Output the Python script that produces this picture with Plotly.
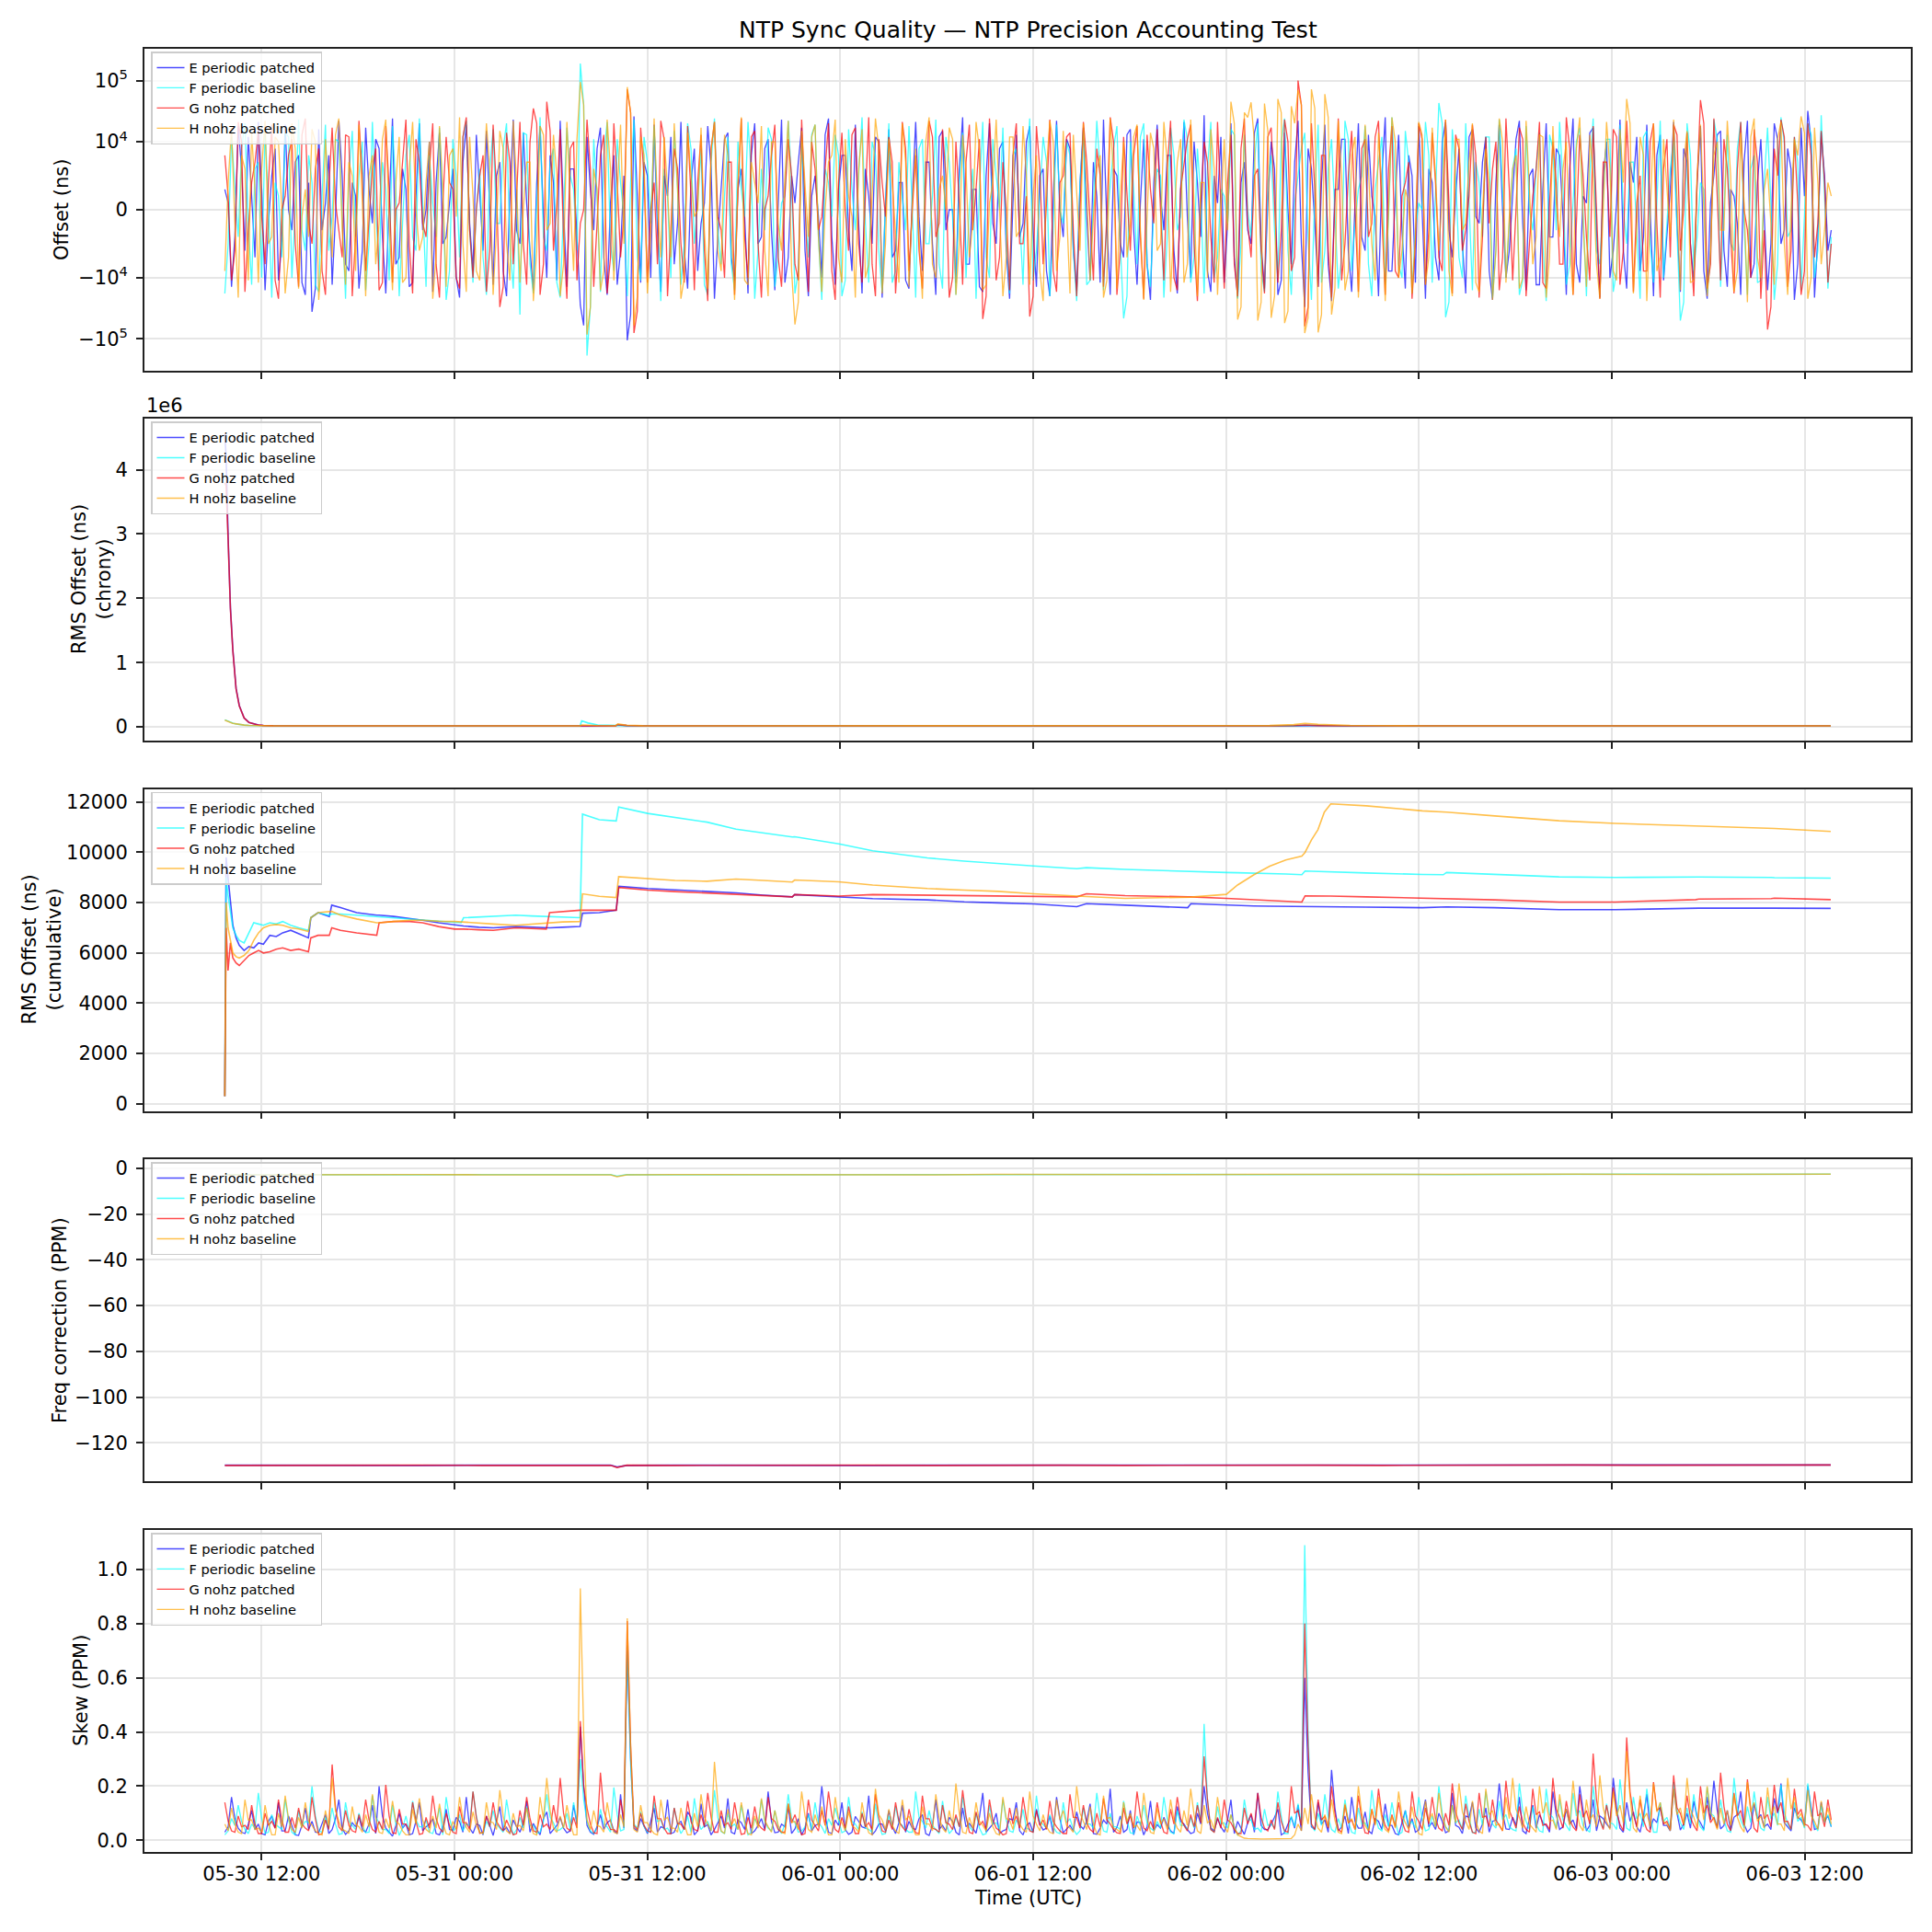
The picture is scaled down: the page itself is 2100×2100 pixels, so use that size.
import numpy as np
import pandas as pd
import plotly.graph_objects as go

# ---------------- data ----------------
START = "2025-05-30 09:43"
END = "2025-06-03 13:39"

series_names = ["E periodic patched", "F periodic baseline", "G nohz patched", "H nohz baseline"]
series_colors = ["blue", "cyan", "red", "orange"]

# Panel 1: offset (microseconds, converted to ns). Samples alternate: main sample, then in-between sample.
offset_E_us = [3, -14, 18, -6, 2, 21, -16, 5, -11, 19, -3, 8, -19, -36, 16, 1, -13, 22, -8, 4,
               -15, 17, -2, 9, -18, 24, -7, 3, -12, 20, 0, -17, 14, -4, 6, -21, 19, -9, 2, 15,
               -13, 7, -20, 23, -5, 1, -16, 18, -10, 4, 22, -14, 6, -28, 12, -3, 17, -19, 8, -6,
               -105, 26, -12, 5, 19, -17, 2, -8, 21, -15, 9, -2, 18, -22, 3, 14, -11, 6, -18, 20,
               -4, 11, -16, 23, -7, 1, 17, -20, 5, -10, 24, -13, 8, -3, 19, -18, 2, 12, -21, 16,
               -6, 4, -15, 21, -9, 7, -19, 15, 0, -12, 25, -8, 3, -17, 20, -5, 10, -22, 13, -2,
               18, -14, 6, -20, 22, -4, 9, -16, 17, -11, 2, 23, -19, 5, -7, 16, -13, 11, -23, 19,
               -3, 8, -18, 21, -10, 4, 27, -17, 1, -12, 20, -21, 7, -5, 24, -15, 10, -19, 14, -8,
               22, -30, 6, -14, 19, -24, 3, 11, -17, 20, -6, 2, -20, 25, -9, 13, -15, 5, 18, -22,
               4, -11, 21, -7, 9, -18, 16, -2, 12, -23, 19, -10, 3, 22, -16, 6, -13, 20, -4, 8,
               -19, 24, -12, 1, 17, -21, 10, -6, 23, -15, 4, -9, 19, -20, 13, -3, 21, -17, 7, -11,
               18, -22, 5, 15, -14, 2, -19, 22, -8, 11, -16, 20, -5, 9, -23, 17, 32, -21, 14, -6]
offset_E_mid_us = [1, -4, 6, 12, -7, 3, -2, 9, -5, 0, 7, -12, 4, -15, -3, 8, -1, 5, -9, 2,
                   -6, 3, 11, -4, 0, -8, 6, -14, 2, -3, 10, 4, -5, 1, -10, 7, -2, 13, -6, 0,
                   5, -9, 2, -3, 14, -6, 4, -1, 8, -11, 0, 6, -4, -60, 3, 9, -7, 1, -13, 5,
                   -40, 2, 7, -10, -3, 5, 12, -2, -6, 4, -9, 1, 6, -4, 11, -7, 3, -1, 8, -5,
                   9, -3, 0, -12, 5, 7, -6, 2, -1, 13, -4, 3, 8, -9, -2, 6, -5, 10, 1, -7,
                   4, -11, 2, -1, 7, -5, 12, -3, 0, 6, -8, 3, -14, 5, -2, 9, -6, 1, -4, 10,
                   -3, 5, -9, 2, 0, 11, -6, 4, -1, 7, -12, -2, 6, -5, 13, -3, 1, -8, 4, 2,
                   8, -6, 3, -1, 10, -4, -9, 5, 12, -2, -7, 4, -3, 14, -5, 1, 6, -11, 0, 7,
                   -5, 9, -2, 4, -8, 3, 11, -6, 1, -4, 13, -1, 5, -9, 2, -3, 8, -12, 0, 6,
                   -7, 10, -3, 2, -5, 12, -1, 7, -9, 4, 0, -6, 11, -2, 5, -13, 3, -4, 9, -1,
                   6, -8, 2, 14, -3, 5, -10, 1, -6, 7, 12, -4, 0, 8, -11, 3, -2, 9, -5, 4,
                   -9, 1, 13, -6, 3, -2, 7, -10, 4, 0, -5, 11, -3, 6, -8, 2, 10, -4, 5, -3]
offset_F_us = [-18, 12, -4, 20, -13, 7, 16, -21, 2, 14, -10, 23, -6, 4, -17, 19, -1, 10, -22, 15,
               5, -16, 21, -9, 3, 18, -20, 8, -4, 24, -14, 1, 17, -23, 11, -7, 22, -12, 6, -19,
               16, -2, 20, -15, -40, 13, -18, 25, -6, 9, -21, 17, 3, 190, -186, 11, -17, 21, -9, 4,
               -20, 23, -11, 7, 18, -24, 2, 15, -13, 20, -5, 9, -19, 24, -8, 12, -16, 3, 21, -22,
               6, 17, -14, 1, 22, -18, 10, -7, 19, -23, 4, 13, -20, 16, -3, 25, -12, 8, -17, 20,
               -9, 2, 18, -21, 11, -5, 23, -15, 7, -19, 14, 0, -22, 21, -10, 5, 17, -18, 9, -13,
               24, -6, 12, -20, 19, -2, 8, -24, 15, -11, 22, -16, 4, 18, -46, 10, -8, 20, -14, 6,
               -21, 17, -3, 23, -12, 9, -18, 21, -7, 2, 16, -22, 13, -4, 20, -17, 8, -10, 24, -19,
               5, 14, -23, 19, -6, 11, -15, 22, -9, 3, 18, -20, 7, -13, 25, -8, 15, -18, 1, 21,
               -12, 43, -44, 16, -7, 20, -16, 4, 12, -21, 23, -10, 6, -19, 18, -3, 14, -24, 9, 21,
               -13, 2, 17, -20, 24, -8, 11, -17, 19, -5, 7, -22, 15, -12, 22, -2, 10, -50, 20, -9,
               4, -18, 23, -14, 13, -6, 21, -19, 8, -11, 17, -23, 25, -4, 12, -16, 20, -10, 27, -15]
offset_F_mid_us = [-5, 3, 9, -2, 6, -10, 1, 4, -7, 12, 0, -3, 8, -13, 2, -6, 11, -1, 5, -4,
                   10, -5, 0, 7, -11, 3, -2, 13, -6, 1, 8, -4, 2, -9, 5, 12, -3, 0, -7, 6,
                   -2, 9, -5, 3, 14, -8, 1, -4, 7, -12, 0, 5, -6, 40, -30, 2, 8, -5, 11, -1,
                   4, -7, 12, -2, 0, 6, -10, 3, -5, 9, 1, -13, 7, -3, 2, -8, 10, -1, 5, -6,
                   -3, 11, -7, 2, 4, -9, 0, 13, -4, 6, -1, 8, -11, 3, 5, -2, 10, -6, 1, -12,
                   7, -3, 0, 9, -5, 2, -8, 12, -1, 4, -10, 6, 3, -7, 11, 0, -4, 8, -2, 5,
                   -11, 2, 7, -3, 0, 10, -6, 4, -13, 1, 6, -2, 9, -5, -20, 3, 12, -8, 0, 5,
                   -4, 8, -1, 11, -7, 2, 6, -10, 3, -2, 13, -5, 0, 7, -9, 4, -3, 10, -6, 1,
                   9, -4, 2, -12, 6, 0, -7, 11, -2, 5, -8, 3, 12, -1, 4, -10, 7, -3, 0, 8,
                   2, 20, -25, 5, -10, 1, 7, -4, 12, -6, 3, -2, 9, -11, 0, 6, -5, 13, -3, 4,
                   -8, 10, -1, 5, -6, 2, 11, -9, 0, 7, -3, 12, -5, 1, -10, 6, -2, -25, 8, -4,
                   3, -7, 11, 0, -5, 9, -2, 6, -12, 4, 1, -8, 10, -3, 7, -1, 13, -6, 2, -4]
offset_G_us = [8, -11, 21, -17, 4, 15, -8, 19, -22, 2, 11, -14, 24, -5, 9, -19, 17, -3, 13, -20,
               22, -9, 6, -16, 18, -12, 1, 23, -18, 7, -4, 20, -21, 12, 3, -15, 25, -10, 5, -17,
               19, -30, 14, -8, 21, -13, 35, -19, 45, -6, 16, -22, 10, -2, 23, -14, 8, -18, 20, -7,
               72, -80, 17, -12, 4, 22, -20, 9, -5, 18, -16, 13, -24, 21, -3, 7, -19, 24, -10, 15,
               -21, 2, 19, -14, 11, -8, 23, -17, 6, -1, 20, -23, 14, -6, 17, -12, 25, -20, 4, 12,
               -18, 21, -9, 8, -15, 22, -4, 16, -21, 10, -13, 19, 3, -47, 24, -11, 7, -16, 20, -5,
               -43, 18, -8, 23, -17, 5, 14, -20, 21, -2, 9, -14, 25, -19, 12, -6, 18, -22, 3, 16,
               -11, 22, -16, 7, 19, -24, 10, -4, 21, -15, 13, -20, 24, -7, 6, -18, 17, -12, 23, -9,
               100, -62, 20, -14, 8, -21, 24, -5, 15, -17, 11, -2, 22, -19, 18, -10, 4, -22, 20, -13,
               14, -7, 23, -18, 9, -3, 19, -21, 12, 6, -16, 24, -11, 17, -20, 2, 21, -15, 10, -8,
               25, -19, 13, -4, 18, -22, 7, 16, -13, 22, -17, 5, -9, 20, -21, 11, 19, -6, 14, -20,
               48, -15, 24, -11, 6, -18, 21, -3, 16, -22, -70, 9, 23, -14, 12, -19, 20, -7, 15, -12]
offset_G_mid_us = [2, -6, 10, -3, 7, -1, 4, -11, 0, 8, -5, 13, -2, 6, -9, 3, 1, -7, 12, -4,
                   5, -1, 9, -12, 3, 0, 7, -5, 11, -2, 6, -8, 1, 4, -10, 12, -3, 0, 8, -6,
                   3, -14, 7, 2, -5, 10, 20, -8, 15, 1, -4, 9, -11, 0, 6, -2, 13, -7, 4, -1,
                   30, -35, 5, 0, -8, 11, -3, 6, -12, 2, 4, -6, 9, -1, -10, 7, 3, -4, 12, -5,
                   0, 8, -7, 2, 5, -11, 1, 10, -3, 6, -9, 4, 0, 13, -5, 2, -8, 11, -1, 7,
                   -4, 9, 0, -6, 3, 12, -2, 5, -10, 1, 7, -3, 11, -20, 4, -7, 0, 8, -5, 2,
                   -20, 6, 1, -9, 4, 12, -3, 0, 7, -11, 5, -1, 10, -6, 2, 8, -4, 13, -2, 0,
                   6, -10, 3, 11, -5, 1, 7, -12, 0, 4, -8, 9, -2, 5, -6, 12, 1, -3, 10, -7,
                   40, -30, 3, 8, -6, 1, -11, 5, 0, 9, -4, 12, -1, 6, -9, 2, 7, -5, 11, -3,
                   4, -9, 1, 13, -6, 2, 8, -4, -2, 10, -7, 3, 0, 11, -5, 6, -12, 1, 4, -8,
                   9, -2, 5, -11, 0, 7, -4, 12, -6, 3, 1, -9, 10, -2, 6, -7, 13, 0, -5, 4,
                   20, -8, 2, 11, -4, 6, 0, -10, 7, -3, -30, 5, 12, -6, 1, -9, 8, -2, 4, -5]
offset_H_us = [-9, 17, -21, 6, 14, -12, 22, -4, 10, -18, 20, -15, 3, 16, -23, 11, -7, 24, -13, 5,
               19, -20, 8, -2, 23, -16, 12, -10, 21, -6, 4, -22, 18, -14, 9, 25, -17, 2, -11, 20,
               -19, 15, -5, 22, -12, 7, -24, 18, -3, 13, -20, 21, -9, 95, -85, 6, -16, 23, -11, 19,
               78, -60, 12, -18, 24, -7, 3, 20, -22, 14, -1, 17, -15, 21, -9, 8, -23, 25, -13, 4,
               18, -20, 10, -6, 22, -58, 15, -4, 19, -17, 7, 23, -12, 2, -21, 16, -8, 24, -18, 11,
               -3, 20, -14, 9, -22, 25, -10, 5, 17, -19, 13, -7, 21, -16, 1, 23, -20, 12, -4, 18,
               -13, 8, -24, 22, -9, 15, -18, 3, 20, -11, 6, -21, 24, -15, 10, -2, 19, -23, 14, -6,
               21, -17, 7, -12, 23, -20, 4, 16, -19, 11, 45, -48, 30, 44, -50, 42, -45, 50, -55, 38,
               70, -80, 72, -78, 60, -40, 22, -16, 8, -21, 19, -5, 14, -24, 25, -10, 3, -18, 21, -13,
               17, -6, 23, -20, 11, -2, 20, -17, 9, -23, 24, -12, 6, -15, 22, -8, 13, -21, 18, -4,
               10, -19, 25, -14, 5, -22, 21, -9, 16, 50, -18, 12, -24, 20, -7, 3, 23, -16, 15, -11,
               19, -20, 8, -3, 22, -17, 14, -25, 24, -10, 6, -13, 21, -19, 11, 26, -22, 17, -8, 4]
offset_H_mid_us = [4, -2, 8, -11, 3, 6, -5, 12, 0, -7, 9, -1, -4, 10, -6, 2, 13, -3, 7, -9,
                   1, 5, -8, 11, -2, 4, -12, 6, 0, -4, 10, -7, 3, 8, -1, -5, 12, -9, 2, 6,
                   -3, 9, -11, 4, 0, 7, -6, 13, -2, 5, -8, 1, 11, 40, -30, 3, -9, 6, 2, -5,
                   30, -20, 8, -4, 1, 12, -7, 3, -10, 5, 0, -3, 9, -6, 13, -2, 4, -11, 7, 1,
                   -6, 10, -2, 5, -9, -25, 3, 12, -4, 0, 8, -7, 11, -1, 6, -10, 2, 9, -5, 4,
                   -12, 7, 1, -4, 10, -8, 3, 0, 11, -5, 6, -2, 9, -13, 4, 1, -7, 12, -3, 5,
                   2, -9, 6, 10, -4, 0, 13, -6, 3, -1, 8, -11, 5, 2, -7, 12, -3, 0, 9, -5,
                   7, -2, 11, -8, 1, 4, -10, 6, 0, -3, 20, -30, 25, 10, -25, 15, -20, 30, -35, 20,
                   40, -45, 35, -40, 25, -15, 5, -9, 12, -2, 6, -11, 3, 0, 10, -6, 1, -4, 13, -7,
                   5, 2, -9, 11, -3, 7, -12, 0, 4, -6, 10, -1, 8, -10, 3, -4, 12, -7, 1, 6,
                   -5, 9, -2, 13, -8, 0, 6, -11, 4, 20, -3, 8, -1, -9, 11, -4, 2, 7, -12, 5,
                   0, -6, 10, -3, 5, -9, 1, 12, -7, 3, -2, 11, -5, 0, 8, 14, -10, 4, -3, 2]

# Panel 2: chrony RMS offset (ns), sampled at hours since START
chrony_hours = [0, 0.08, 0.2, 0.35, 0.5, 0.7, 0.9, 1.2, 1.5, 1.8,
                2.1, 2.4, 3, 5, 8, 12, 16, 20, 22.1, 22.2,
                22.6, 23.2, 24.3, 24.45, 25, 26, 30, 35, 40, 45,
                50, 55, 60, 65, 66.5, 67.2, 68, 70, 75, 80,
                85, 90, 95, 99.9]
chrony_E = [4560000, 4200000, 3000000, 1850000, 1200000, 600000, 330000, 140000, 70000, 45000,
            28000, 22000, 18000, 16000, 15000, 14000, 15000, 14500, 15000, 16000,
            15500, 15000, 16000, 30000, 20000, 16000, 15000, 14000, 15000, 14000,
            14500, 15000, 14000, 15000, 17000, 22000, 18000, 15000, 14000, 14500,
            14000, 15000, 14500, 14000]
chrony_F = [110000, 100000, 85000, 70000, 57000, 45000, 36000, 28000, 23000, 20000,
            18000, 17000, 16000, 15000, 15000, 14500, 15000, 14500, 15000, 95000,
            60000, 30000, 18000, 22000, 17000, 15500, 15000, 14500, 15000, 14000,
            15000, 14500, 15000, 15500, 17000, 25000, 20000, 16000, 15000, 14500,
            15000, 14000, 14500, 14000]
chrony_G = [3800000, 3750000, 2950000, 1830000, 1180000, 590000, 325000, 138000, 69000, 44000,
            27000, 21000, 17000, 15500, 14500, 14000, 14500, 14000, 14500, 15000,
            15000, 14500, 15500, 35000, 20000, 15500, 14500, 14000, 14500, 14000,
            14000, 14500, 14000, 15000, 18000, 30000, 20000, 15000, 14000, 14000,
            14500, 14000, 15000, 14500]
chrony_H = [105000, 95000, 82000, 68000, 55000, 44000, 35000, 27000, 22000, 19000,
            17500, 16500, 15500, 15000, 14500, 14000, 14500, 14000, 14500, 30000,
            25000, 18000, 16000, 45000, 25000, 17000, 15000, 14500, 14000, 14500,
            15000, 14500, 15000, 20000, 35000, 55000, 40000, 22000, 15000, 14500,
            14000, 14500, 14000, 14500]

# Panel 3: cumulative RMS offset (ns), sampled at hours since START
cum_hours = [0, 0.08, 0.2, 0.35, 0.5, 0.7, 0.9, 1.2, 1.5, 1.8,
             2.1, 2.4, 2.8, 3.2, 3.6, 4.1, 4.6, 5.2, 5.35, 5.8,
             6.5, 6.65, 7.2, 8.2, 9.45, 9.6, 10.5, 11.5, 12.3, 13.3,
             14.3, 14.7, 14.85, 15.8, 16.7, 18.1, 19.1, 20.0, 20.2, 21.0,
             22.1, 22.25, 23.3, 24.35, 24.5, 26.3, 28.0, 30.0, 31.8, 33.5,
             35.3, 35.45, 38.2, 40.3, 43.7, 46.0, 48.1, 50.3, 53.0, 53.6,
             56.0, 59.9, 60.1, 62.3, 63.0, 64.0, 65.0, 66.0, 67.0, 67.2,
             67.6, 68.0, 68.4, 68.8, 71.0, 74.5, 75.8, 76.0, 79.0, 83.0,
             86.5, 91.5, 91.7, 96.2, 96.4, 99.9]
cum_E = [300, 9800, 9000, 8000, 7100, 6600, 6300, 6100, 6250, 6200,
         6400, 6350, 6700, 6650, 6800, 6900, 6750, 6600, 7400, 7600,
         7450, 7900, 7800, 7600, 7500, 7500, 7450, 7380, 7300, 7200,
         7120, 7080, 7070, 7020, 7000, 7050, 7020, 7000, 7000, 7020,
         7050, 7580, 7600, 7700, 8650, 8560, 8500, 8440, 8390, 8300,
         8230, 8320, 8240, 8160, 8110, 8030, 7990, 7950, 7840, 7960,
         7900, 7800, 7960, 7900, 7880, 7870, 7860, 7850, 7850, 7850,
         7845, 7840, 7840, 7835, 7820, 7800, 7810, 7830, 7800, 7720,
         7720, 7760, 7780, 7780, 7780, 7770]
cum_F = [300, 9000, 8300, 7600, 7000, 6700, 6500, 6400, 6800, 7200,
         7150, 7100, 7200, 7150, 7250, 7100, 7000, 6900, 7400, 7600,
         7500, 7550, 7550, 7500, 7450, 7450, 7400, 7350, 7300, 7250,
         7220, 7200, 7400, 7430, 7450, 7500, 7470, 7450, 7450, 7430,
         7400, 11520, 11300, 11250, 11800, 11550, 11400, 11200, 10920, 10760,
         10610, 10620, 10340, 10060, 9780, 9650, 9550, 9460, 9350, 9390,
         9320, 9230, 9230, 9200, 9190, 9180, 9160, 9140, 9110, 9260,
         9250, 9240, 9230, 9220, 9180, 9120, 9110, 9200, 9120, 9025,
         9000, 9020, 9020, 9000, 8990, 8975]
cum_G = [300, 7000, 5300, 6400, 5800, 5600, 5500, 5700, 5900, 6000,
         6100, 6000, 6050, 6150, 6200, 6100, 6150, 6050, 6600, 6700,
         6700, 7000, 6900, 6800, 6700, 7200, 7250, 7250, 7200, 7050,
         6950, 6950, 6950, 6920, 6900, 7000, 6980, 6950, 7600, 7650,
         7700, 7700, 7700, 7700, 8600, 8500, 8440, 8380, 8320, 8260,
         8230, 8320, 8260, 8320, 8290, 8270, 8250, 8255, 8230, 8350,
         8280, 8230, 8230, 8170, 8150, 8120, 8090, 8060, 8025, 8270,
         8270, 8265, 8260, 8260, 8230, 8180, 8150, 8150, 8110, 8025,
         8025, 8120, 8140, 8160, 8180, 8120]
cum_H = [300, 8000, 7000, 6500, 6000, 5850, 5800, 5900, 6100, 6500,
         6800, 7000, 7100, 7130, 7100, 7000, 6950, 6850, 7400, 7600,
         7650, 7650, 7500, 7350, 7200, 7200, 7250, 7300, 7300, 7260,
         7250, 7230, 7220, 7200, 7150, 7100, 7150, 7200, 7200, 7230,
         7250, 8350, 8250, 8200, 9030, 8950, 8880, 8850, 8940, 8880,
         8820, 8900, 8830, 8700, 8560, 8500, 8450, 8350, 8240, 8240,
         8170, 8200, 8220, 8330, 8700, 9100, 9450, 9700, 9850, 10000,
         10500, 10900, 11600, 11930, 11850, 11650, 11600, 11600, 11450, 11255,
         11150, 11060, 11050, 10960, 10950, 10830]

# Panel 4: frequency correction (PPM), sampled at hours since START
freq_hours = [0, 4, 8, 12, 16, 20, 24, 24.4, 25, 28, 32, 36, 40, 44, 48, 52, 56, 60, 64, 68,
              72, 76, 80, 84, 88, 92, 96, 99.9]
freq_E = [-129.8, -129.9, -129.8, -129.9, -129.8, -129.9, -129.8, -130.6, -129.9, -129.8,
          -129.9, -129.8, -129.9, -129.8, -129.8, -129.9, -129.8, -129.9, -129.8, -129.9,
          -129.8, -129.9, -129.8, -129.8, -129.7, -129.8, -129.7, -129.7]
freq_F = [-2.7, -2.8, -2.7, -2.8, -2.7, -2.8, -2.7, -3.4, -2.7, -2.8,
          -2.7, -2.7, -2.8, -2.7, -2.7, -2.6, -2.7, -2.6, -2.7, -2.6,
          -2.6, -2.7, -2.6, -2.6, -2.5, -2.6, -2.5, -2.5]
freq_G = [-129.9, -129.8, -129.9, -129.8, -129.9, -129.8, -129.9, -130.8, -129.8, -129.9,
          -129.8, -129.9, -129.8, -129.9, -129.8, -129.8, -129.9, -129.8, -129.9, -129.8,
          -129.9, -129.8, -129.9, -129.7, -129.8, -129.7, -129.8, -129.7]
freq_H = [-2.8, -2.7, -2.8, -2.7, -2.8, -2.7, -2.8, -3.6, -2.8, -2.7,
          -2.8, -2.7, -2.7, -2.8, -2.6, -2.7, -2.6, -2.7, -2.6, -2.7,
          -2.6, -2.6, -2.7, -2.5, -2.6, -2.5, -2.6, -2.5]

# Panel 5: skew (milli-PPM, converted to PPM). Samples alternate: main sample, then in-between sample.
skew_E_m = [30, 160, 45, 25, 110, 60, 20, 90, 140, 35, 55, 18, 120, 70, 28, 95, 40, 150, 22, 65,
            85, 30, 130, 200, 45, 15, 100, 60, 25, 140, 50, 80, 20, 115, 38, 70, 160, 26, 55, 90,
            18, 125, 48, 75, 30, 145, 62, 20, 105, 40, 85, 28, 130, 420, 55, 22, 95, 65, 35, 170,
            700, 45, 80, 25, 120, 50, 150, 30, 70, 105, 20, 135, 58, 40, 90, 155, 24, 65, 115, 35,
            80, 180, 28, 60, 125, 42, 20, 100, 55, 200, 30, 75, 140, 22, 88, 50, 165, 35, 60, 110,
            25, 130, 70, 40, 95, 18, 150, 55, 85, 30, 120, 62, 26, 175, 45, 100, 35, 80, 140, 20,
            65, 115, 38, 90, 160, 28, 55, 105, 42, 135, 22, 75, 190, 48, 30, 110, 68, 20, 145, 58,
            85, 35, 125, 60, 25, 100, 200, 45, 80, 30, 150, 70, 22, 95, 175, 40, 60, 115, 28, 85,
            130, 600, 50, 140, 75, 260, 35, 90, 160, 45, 105, 25, 70, 135, 55, 20, 110, 80, 38, 150,
            65, 100, 28, 175, 48, 90, 140, 30, 120, 70, 210, 42, 85, 160, 25, 130, 95, 55, 180, 40,
            115, 75, 200, 35, 150, 90, 60, 230, 45, 140, 105, 30, 170, 80, 125, 55, 190, 38, 100, 145,
            65, 160, 220, 42, 110, 85, 180, 30, 135, 95, 60, 155, 210, 48, 120, 75, 200, 40, 140, 90]
skew_E_mid_m = [50, 80, 30, 60, 40, 25, 70, 45, 35, 90, 20, 55, 40, 30, 65, 25, 80, 45, 35, 50,
                40, 60, 25, 90, 30, 55, 45, 20, 70, 35, 60, 25, 50, 40, 85, 30, 45, 60, 20, 55,
                70, 35, 25, 50, 65, 30, 40, 80, 25, 55, 45, 35, 60, 200, 30, 50, 40, 75, 25, 45,
                300, 35, 55, 70, 30, 45, 25, 60, 40, 85, 35, 50, 20, 65, 45, 30, 75, 40, 25, 55,
                40, 70, 30, 50, 25, 80, 45, 35, 60, 90, 25, 55, 40, 30, 70, 45, 20, 60, 35, 50,
                65, 30, 45, 80, 25, 55, 40, 35, 70, 20, 50, 45, 85, 30, 60, 25, 40, 75, 35, 55,
                30, 60, 45, 25, 80, 40, 35, 55, 70, 25, 45, 60, 30, 90, 40, 20, 65, 50, 35, 45,
                55, 25, 70, 40, 30, 60, 100, 35, 50, 75, 25, 45, 65, 30, 55, 40, 85, 20, 60, 45,
                35, 250, 40, 60, 30, 120, 50, 25, 70, 45, 35, 80, 40, 55, 25, 65, 45, 30, 90, 50,
                40, 70, 35, 55, 25, 85, 45, 60, 30, 75, 100, 40, 55, 35, 80, 45, 65, 30, 95, 50,
                60, 40, 110, 55, 35, 80, 45, 120, 30, 70, 50, 90, 40, 65, 55, 35, 100, 60, 45, 85,
                40, 75, 110, 55, 35, 95, 60, 45, 80, 50, 40, 100, 65, 35, 85, 55, 120, 45, 70, 50]
skew_F_m = [20, 80, 130, 40, 60, 175, 25, 95, 50, 150, 30, 110, 70, 200, 35, 85, 120, 22, 140, 55,
            100, 28, 165, 65, 40, 130, 18, 90, 145, 50, 75, 25, 120, 160, 35, 95, 60, 180, 30, 70,
            110, 45, 150, 20, 85, 125, 55, 30, 170, 65, 40, 100, 140, 300, 70, 25, 115, 50, 195, 35,
            720, 60, 105, 30, 140, 75, 45, 120, 25, 90, 155, 40, 70, 185, 32, 100, 60, 130, 20, 80,
            150, 45, 110, 25, 170, 65, 35, 95, 140, 50, 80, 120, 28, 160, 60, 105, 40, 135, 22, 90,
            125, 55, 30, 180, 70, 110, 40, 145, 25, 85, 160, 50, 100, 20, 130, 65, 150, 35, 75, 115,
            40, 165, 58, 95, 30, 140, 80, 22, 120, 60, 175, 35, 100, 50, 145, 28, 90, 130, 45, 70,
            160, 30, 110, 55, 85, 140, 430, 40, 125, 65, 95, 20, 150, 75, 45, 115, 60, 180, 25, 90,
            135, 1090, 55, 100, 170, 40, 80, 150, 30, 120, 65, 185, 45, 95, 140, 22, 110, 70, 160, 35,
            90, 200, 50, 130, 75, 165, 28, 115, 180, 60, 145, 95, 40, 210, 70, 125, 35, 190, 85, 150,
            55, 175, 110, 40, 200, 80, 135, 60, 225, 45, 160, 100, 190, 30, 140, 85, 215, 65, 120, 170,
            50, 195, 90, 150, 35, 230, 75, 125, 180, 45, 160, 100, 205, 60, 140, 85, 210, 55, 130, 95]
skew_F_mid_m = [35, 55, 70, 25, 45, 80, 30, 60, 40, 75, 20, 50, 65, 90, 30, 45, 60, 25, 70, 40,
                55, 30, 85, 40, 25, 60, 45, 35, 75, 50, 30, 65, 20, 80, 45, 35, 55, 90, 25, 50,
                60, 30, 75, 40, 45, 55, 25, 70, 85, 35, 50, 40, 65, 150, 35, 45, 60, 30, 95, 40,
                280, 45, 50, 35, 70, 40, 25, 60, 45, 30, 75, 55, 35, 85, 25, 50, 40, 65, 30, 55,
                70, 35, 45, 60, 80, 30, 50, 40, 65, 25, 55, 75, 35, 70, 40, 45, 30, 60, 25, 50,
                65, 40, 30, 85, 45, 55, 25, 70, 40, 50, 80, 35, 45, 25, 60, 40, 75, 30, 55, 45,
                30, 70, 45, 50, 25, 65, 40, 35, 60, 45, 85, 30, 50, 40, 75, 25, 55, 65, 35, 45,
                80, 25, 55, 40, 45, 70, 150, 30, 60, 45, 50, 35, 75, 40, 30, 55, 45, 90, 25, 50,
                60, 400, 35, 55, 85, 30, 45, 70, 25, 60, 40, 95, 35, 50, 70, 30, 55, 45, 80, 40,
                50, 100, 35, 65, 40, 85, 30, 55, 90, 45, 75, 50, 35, 110, 40, 60, 30, 95, 45, 75,
                35, 90, 55, 30, 100, 45, 65, 40, 115, 35, 80, 50, 95, 30, 70, 45, 110, 40, 60, 85,
                35, 100, 50, 75, 30, 120, 45, 65, 90, 35, 80, 55, 105, 40, 70, 45, 110, 35, 65, 50]
skew_G_m = [140, 35, 90, 55, 130, 25, 100, 70, 150, 30, 85, 120, 45, 160, 20, 75, 280, 50, 110, 35,
            95, 150, 40, 70, 205, 28, 115, 60, 140, 22, 85, 165, 45, 100, 30, 125, 65, 180, 25, 90,
            140, 50, 75, 20, 110, 160, 35, 95, 60, 130, 230, 45, 85, 440, 120, 28, 250, 70, 40, 150,
            810, 55, 100, 35, 165, 80, 25, 120, 60, 145, 40, 95, 175, 30, 110, 65, 140, 22, 85, 125,
            45, 160, 70, 30, 135, 95, 20, 150, 55, 110, 180, 40, 85, 125, 25, 100, 65, 170, 35, 75,
            140, 50, 115, 28, 165, 80, 40, 130, 60, 95, 185, 30, 105, 70, 150, 45, 20, 120, 90, 160,
            35, 110, 75, 145, 50, 25, 170, 85, 130, 40, 100, 155, 60, 28, 120, 90, 180, 45, 70, 140,
            30, 115, 160, 55, 95, 130, 310, 40, 85, 150, 65, 25, 120, 100, 175, 45, 75, 140, 35, 200,
            110, 800, 60, 150, 90, 200, 40, 130, 75, 165, 28, 115, 190, 55, 95, 140, 35, 180, 70, 120,
            160, 45, 100, 210, 65, 135, 30, 175, 90, 150, 55, 220, 80, 125, 40, 190, 105, 60, 230, 85,
            145, 50, 170, 110, 320, 75, 130, 195, 60, 380, 95, 150, 40, 215, 120, 70, 240, 100, 165, 55,
            200, 130, 85, 250, 60, 175, 110, 225, 45, 160, 95, 205, 140, 70, 190, 115, 55, 180, 100, 150]
skew_G_mid_m = [70, 30, 50, 40, 60, 25, 55, 45, 75, 30, 45, 60, 35, 80, 25, 40, 120, 35, 55, 30,
                50, 75, 30, 40, 90, 25, 60, 35, 70, 25, 45, 80, 30, 55, 25, 65, 40, 85, 30, 50,
                70, 35, 45, 25, 55, 80, 30, 50, 40, 65, 100, 35, 45, 200, 60, 25, 110, 40, 30, 75,
                350, 40, 55, 30, 80, 45, 25, 60, 40, 70, 35, 50, 85, 30, 55, 40, 70, 25, 45, 60,
                35, 80, 40, 30, 65, 50, 25, 75, 35, 55, 90, 30, 45, 60, 25, 50, 40, 85, 30, 40,
                70, 35, 60, 25, 80, 45, 30, 65, 40, 50, 90, 25, 55, 40, 75, 35, 25, 60, 45, 80,
                30, 55, 40, 70, 35, 25, 85, 45, 65, 30, 50, 75, 40, 25, 60, 45, 90, 35, 40, 70,
                25, 60, 80, 35, 50, 65, 150, 30, 45, 75, 40, 25, 60, 50, 85, 35, 40, 70, 30, 100,
                55, 350, 40, 75, 45, 100, 30, 65, 40, 80, 25, 60, 95, 35, 50, 70, 30, 90, 40, 60,
                80, 35, 55, 105, 40, 70, 25, 85, 50, 75, 35, 110, 45, 65, 30, 95, 55, 40, 115, 45,
                75, 35, 85, 60, 150, 40, 65, 100, 35, 180, 50, 75, 30, 110, 60, 40, 120, 55, 85, 35,
                100, 65, 45, 125, 35, 90, 55, 115, 30, 80, 50, 105, 70, 40, 95, 60, 35, 90, 50, 75]
skew_H_m = [60, 120, 30, 150, 75, 45, 130, 20, 100, 165, 40, 85, 140, 55, 25, 110, 230, 70, 35, 125,
            50, 95, 170, 30, 80, 145, 60, 20, 115, 155, 40, 90, 135, 25, 70, 160, 48, 105, 30, 140,
            65, 185, 35, 100, 55, 120, 25, 160, 230, 45, 90, 130, 20, 930, 75, 110, 50, 140, 30, 95,
            820, 40, 130, 65, 25, 150, 85, 45, 120, 20, 100, 170, 60, 290, 35, 115, 80, 140, 25, 90,
            155, 50, 110, 30, 135, 70, 180, 40, 95, 125, 20, 160, 65, 105, 45, 140, 28, 190, 75, 115,
            35, 150, 90, 20, 125, 60, 170, 45, 110, 210, 30, 85, 140, 55, 100, 25, 160, 75, 120, 40,
            180, 60, 95, 30, 150, 110, 45, 200, 70, 125, 25, 165, 85, 40, 140, 100, 55, 175, 30, 120,
            80, 150, 45, 110, 190, 35, 130, 75, 160, 50, 95, 20, 8, 6, 5, 5, 5, 6, 5, 7,
            60, 120, 170, 45, 95, 150, 30, 135, 80, 200, 55, 115, 160, 40, 90, 180, 65, 125, 25, 145,
            100, 175, 50, 130, 210, 70, 145, 35, 190, 110, 60, 160, 230, 85, 125, 45, 200, 140, 75, 170,
            115, 220, 55, 150, 95, 240, 70, 180, 130, 330, 45, 165, 100, 210, 140, 60, 190, 120, 230, 85,
            155, 200, 75, 120, 110, 170, 50, 215, 140, 90, 195, 125, 60, 230, 160, 100, 185, 70, 145, 120]
skew_H_mid_m = [35, 60, 25, 75, 40, 30, 65, 20, 50, 80, 30, 45, 70, 35, 20, 55, 110, 40, 25, 60,
                30, 50, 85, 25, 45, 70, 35, 20, 60, 75, 30, 45, 65, 20, 40, 80, 30, 55, 25, 70,
                40, 90, 25, 50, 35, 60, 20, 80, 110, 30, 45, 65, 20, 400, 40, 55, 30, 70, 25, 50,
                350, 30, 65, 40, 20, 75, 45, 30, 60, 20, 50, 85, 35, 140, 25, 55, 40, 70, 20, 45,
                75, 30, 55, 25, 65, 40, 90, 30, 50, 60, 20, 80, 35, 55, 30, 70, 20, 95, 40, 55,
                25, 75, 45, 20, 60, 35, 85, 30, 55, 100, 25, 45, 70, 35, 50, 20, 80, 40, 60, 30,
                90, 35, 50, 25, 75, 55, 30, 100, 40, 60, 20, 80, 45, 30, 70, 50, 35, 85, 25, 60,
                40, 75, 30, 55, 95, 25, 65, 40, 80, 30, 50, 15, 7, 6, 5, 5, 6, 5, 6, 20,
                35, 60, 85, 30, 50, 75, 25, 65, 40, 100, 35, 55, 80, 30, 45, 90, 40, 60, 20, 70,
                50, 85, 30, 65, 105, 40, 70, 25, 95, 55, 35, 80, 115, 45, 60, 30, 100, 70, 40, 85,
                55, 110, 35, 75, 50, 120, 40, 90, 65, 160, 30, 80, 50, 105, 70, 35, 95, 60, 115, 45,
                75, 100, 40, 60, 55, 85, 30, 105, 70, 45, 95, 60, 35, 115, 80, 50, 90, 40, 70, 60]

# ---------------- helpers ----------------
LINTHRESH = 1e4
LINSCALE_ADJ = 1.0 / (1.0 - 1.0 / 10.0)


def symlog(v):
    v = np.asarray(v, dtype=float)
    a = np.abs(v)
    out = np.where(a <= LINTHRESH, a / LINTHRESH * LINSCALE_ADJ,
                   LINSCALE_ADJ + np.log10(np.maximum(a, LINTHRESH) / LINTHRESH))
    return np.sign(v) * out


def interleave(a, b):
    out = []
    for p, q in zip(a, b):
        out.extend([p, q])
    return out


def even_times(n):
    return pd.date_range(START, END, periods=n)


def hour_times(h):
    return pd.Timestamp(START) + pd.to_timedelta(np.asarray(h, dtype=float), unit="h")


def pair(times, vals):
    n = min(len(times), len(vals))
    return list(times[:n]), list(vals[:n])


offset_sets = [(offset_E_us, offset_E_mid_us), (offset_F_us, offset_F_mid_us),
               (offset_G_us, offset_G_mid_us), (offset_H_us, offset_H_mid_us)]
skew_sets = [(skew_E_m, skew_E_mid_m), (skew_F_m, skew_F_mid_m),
             (skew_G_m, skew_G_mid_m), (skew_H_m, skew_H_mid_m)]

panels = []
p1 = []
for a, b in offset_sets:
    v = np.asarray(interleave(a, b), dtype=float) * 1000.0
    p1.append(pair(even_times(len(v)), list(symlog(v))))
panels.append(p1)
panels.append([pair(hour_times(chrony_hours), v) for v in (chrony_E, chrony_F, chrony_G, chrony_H)])
panels.append([pair(hour_times(cum_hours), v) for v in (cum_E, cum_F, cum_G, cum_H)])
panels.append([pair(hour_times(freq_hours), v) for v in (freq_E, freq_F, freq_G, freq_H)])
p5 = []
for a, b in skew_sets:
    v = np.asarray(interleave(a, b), dtype=float) / 1000.0
    p5.append(pair(even_times(len(v)), list(v)))
panels.append(p5)

# ---------------- layout geometry ----------------
W, H = 2100, 2100
ML, MR, MT, MB = 157, 23, 53, 87
PW, PH = W - ML - MR, H - MT - MB
panel_tops = [53, 455, 857.5, 1260, 1663]
PANEL_H = 350
line_widths = [1.3, 1.6, 1.6, 1.6, 1.3]


def px_x(p):
    return (p - ML) / PW


def px_y(p):
    return 1 - (p - MT) / PH


FONT = "DejaVu Sans"
TICKFONT = dict(family=FONT, size=21, color="black")
AXCOL = "#222222"
GRIDCOL = "#e6e6e6"

fig = go.Figure()
for p, series in enumerate(panels):
    xa = "x" if p == 0 else f"x{p + 1}"
    ya = "y" if p == 0 else f"y{p + 1}"
    lg = "legend" if p == 0 else f"legend{p + 1}"
    for s, (xs, ys) in enumerate(series):
        fig.add_trace(go.Scatter(
            x=xs, y=ys, mode="lines", name=series_names[s],
            line=dict(color=series_colors[s], width=line_widths[p]),
            opacity=0.7, xaxis=xa, yaxis=ya, legend=lg, showlegend=True,
            hoverinfo="skip"))

x_range = ["2025-05-30 04:43", "2025-06-03 18:36"]
y_specs = [
    dict(range=[-2.63, 2.63],
         tickvals=[float(symlog(-1e5)), float(symlog(-1e4)), 0.0, float(symlog(1e4)), float(symlog(1e5))],
         ticktext=["\u221210<sup>5</sup>", "\u221210<sup>4</sup>", "0", "10<sup>4</sup>", "10<sup>5</sup>"]),
    dict(range=[-214000, 4796000], tickvals=[0, 1e6, 2e6, 3e6, 4e6], ticktext=["0", "1", "2", "3", "4"]),
    dict(range=[-282, 12523], tickvals=[0, 2000, 4000, 6000, 8000, 10000, 12000],
         ticktext=["0", "2000", "4000", "6000", "8000", "10000", "12000"]),
    dict(range=[-136.8, 4.03], tickvals=[0, -20, -40, -60, -80, -100, -120],
         ticktext=["0", "\u221220", "\u221240", "\u221260", "\u221280", "\u2212100", "\u2212120"]),
    dict(range=[-0.043, 1.146], tickvals=[0, 0.2, 0.4, 0.6, 0.8, 1.0],
         ticktext=["0.0", "0.2", "0.4", "0.6", "0.8", "1.0"]),
]

layout = dict(
    width=W, height=H,
    margin=dict(l=ML, r=MR, t=MT, b=MB, pad=0),
    paper_bgcolor="white", plot_bgcolor="white",
    font=dict(family=FONT, size=21, color="black"),
    showlegend=True,
)

for p in range(5):
    top = panel_tops[p]
    dom = [px_y(top + PANEL_H), px_y(top)]
    xk = "xaxis" if p == 0 else f"xaxis{p + 1}"
    yk = "yaxis" if p == 0 else f"yaxis{p + 1}"
    ya = "y" if p == 0 else f"y{p + 1}"
    xa = "x" if p == 0 else f"x{p + 1}"
    layout[xk] = dict(
        type="date", range=x_range, domain=[0, 1], anchor=ya,
        tick0="2025-05-30 00:00", dtick=43200000, tickformat="%m-%d %H:%M",
        showticklabels=(p == 4), tickfont=TICKFONT,
        showgrid=True, gridcolor=GRIDCOL, gridwidth=1.5, zeroline=False,
        showline=True, linecolor=AXCOL, linewidth=1.8, mirror=True,
        ticks="outside", ticklen=7, tickwidth=1.7, tickcolor=AXCOL,
        ticklabelstandoff=-3,
    )
    spec = y_specs[p]
    layout[yk] = dict(
        domain=dom, anchor=xa, range=spec["range"],
        tickmode="array", tickvals=spec["tickvals"], ticktext=spec["ticktext"],
        tickfont=TICKFONT,
        showgrid=True, gridcolor=GRIDCOL, gridwidth=1.5, zeroline=False,
        showline=True, linecolor=AXCOL, linewidth=1.8, mirror=True,
        ticks="outside", ticklen=7, tickwidth=1.7, tickcolor=AXCOL,
        ticklabelstandoff=5,
    )
    lk = "legend" if p == 0 else f"legend{p + 1}"
    layout[lk] = dict(
        x=px_x(164), y=px_y(top + 3), xanchor="left", yanchor="top",
        xref="paper", yref="paper",
        bgcolor="rgba(255,255,255,0.8)", bordercolor="#cccccc", borderwidth=1.5,
        font=dict(family=FONT, size=14.6, color="black"),
        itemwidth=30, tracegroupgap=0,
    )

annotations = [
    dict(text="NTP Sync Quality \u2014 NTP Precision Accounting Test", x=px_x(1117), y=px_y(32),
         xref="paper", yref="paper", showarrow=False, xanchor="center", yanchor="middle",
         font=dict(family=FONT, size=25, color="black")),
    dict(text="Time (UTC)", x=px_x(1117), y=px_y(2063), xref="paper", yref="paper",
         showarrow=False, xanchor="center", yanchor="middle", font=dict(family=FONT, size=21, color="black")),
    dict(text="1e6", x=px_x(157), y=px_y(441.5), xref="paper", yref="paper",
         showarrow=False, xanchor="left", yanchor="middle", font=dict(family=FONT, size=21, color="black")),
]
ylabels = [("Offset (ns)", 67), ("RMS Offset (ns)<br>(chrony)", 99),
           ("RMS Offset (ns)<br>(cumulative)", 45), ("Freq correction (PPM)", 65), ("Skew (PPM)", 88)]
for p, (txt, xc) in enumerate(ylabels):
    annotations.append(dict(
        text=txt, x=px_x(xc), y=px_y(panel_tops[p] + PANEL_H / 2), xref="paper", yref="paper",
        showarrow=False, textangle=-90, xanchor="center", yanchor="middle",
        font=dict(family=FONT, size=21, color="black")))
layout["annotations"] = annotations

fig.update_layout(**layout)
fig.write_html("out.html")
